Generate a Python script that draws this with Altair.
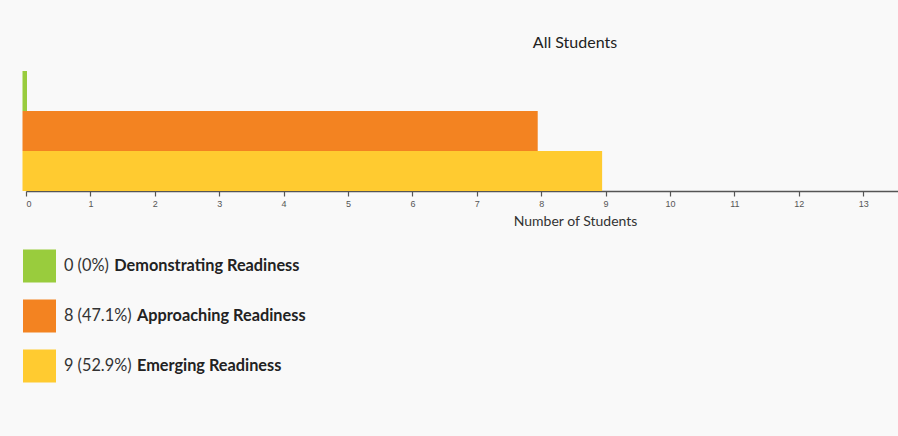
import altair as alt
import pandas as pd

categories = ["Demonstrating Readiness", "Approaching Readiness", "Emerging Readiness"]
counts = [0, 8, 9]
percents = ["0%", "47.1%", "52.9%"]
colors = ["#99CC3D", "#F38321", "#FFCB30"]
x_ticks = list(range(0, 14))

df = pd.DataFrame({"category": categories, "count": counts, "pct": percents})

color_scale = alt.Scale(domain=categories, range=colors)
color_enc = alt.Color("category:N", scale=color_scale, legend=None)

base = alt.Chart(df)

bars = base.transform_calculate(
    shown="max(datum.count, 0.07)"
).mark_bar(xOffset=-3.5, x2Offset=-3.5).encode(
    x=alt.X(
        "shown:Q",
        scale=alt.Scale(domain=[0, 13.54], nice=False, zero=True),
        axis=alt.Axis(
            values=x_ticks,
            format="d",
            title="Number of Students",
            offset=-200,
            grid=False,
            domainColor="#555555",
            domainWidth=1.5,
            tickColor="#555555",
            tickWidth=1.2,
            tickSize=5,
            labelPadding=3,
            labelFont="Liberation Sans",
            labelFontSize=9,
            labelColor="#555555",
            titleFont="Lato",
            titleFontSize=14,
            titleFontWeight="normal",
            titleColor="#333333",
            titleX=549,
            titleY=34,
            titleAlign="center",
            titleBaseline="alphabetic",
        ),
    ),
    y=alt.Y(
        "category:N",
        sort=categories,
        scale=alt.Scale(range=[0, 120], paddingInner=0, paddingOuter=0),
        axis=None,
    ),
    color=color_enc,
)

legend_y = alt.Y(
    "category:N",
    sort=categories,
    scale=alt.Scale(range=[170, 320], paddingInner=0, paddingOuter=0),
    axis=None,
)

legend_base = base.transform_calculate(
    prefix="datum.count + ' (' + datum.pct + ')'"
).transform_calculate(
    name_x="38 + length(datum.prefix) * 7.55 + 5"
)

swatch = legend_base.mark_square(size=1089, opacity=1).encode(
    x=alt.value(13.5), y=legend_y, color=color_enc
)

prefix_text = legend_base.mark_text(
    align="left", baseline="middle", font="Lato", fontSize=16.3, color="#333333"
).encode(x=alt.value(38), y=legend_y, text="prefix:N")

name_text = legend_base.mark_text(
    align="left", baseline="middle", font="Lato", fontSize=16.3, fontWeight="bold", color="#222222"
).encode(x=alt.X("name_x:Q", scale=None), y=legend_y, text="category:N")

chart = alt.layer(bars, swatch, prefix_text, name_text).resolve_scale(
    y="independent"
).properties(
    width=872,
    height=320,
    title=alt.TitleParams(
        "All Students",
        font="Lato",
        fontSize=16,
        fontWeight="normal",
        color="#222222",
        anchor="middle",
        frame="group",
        baseline="alphabetic",
        offset=7,
        dx=113,
    ),
    padding={"left": 26, "top": 71, "right": 0, "bottom": 45},
    autosize=alt.AutoSizeParams(type="none"),
    background="#f9f9f9",
).configure_view(stroke=None)

chart.save("out.html", embed_options={"renderer": "svg", "actions": False})
